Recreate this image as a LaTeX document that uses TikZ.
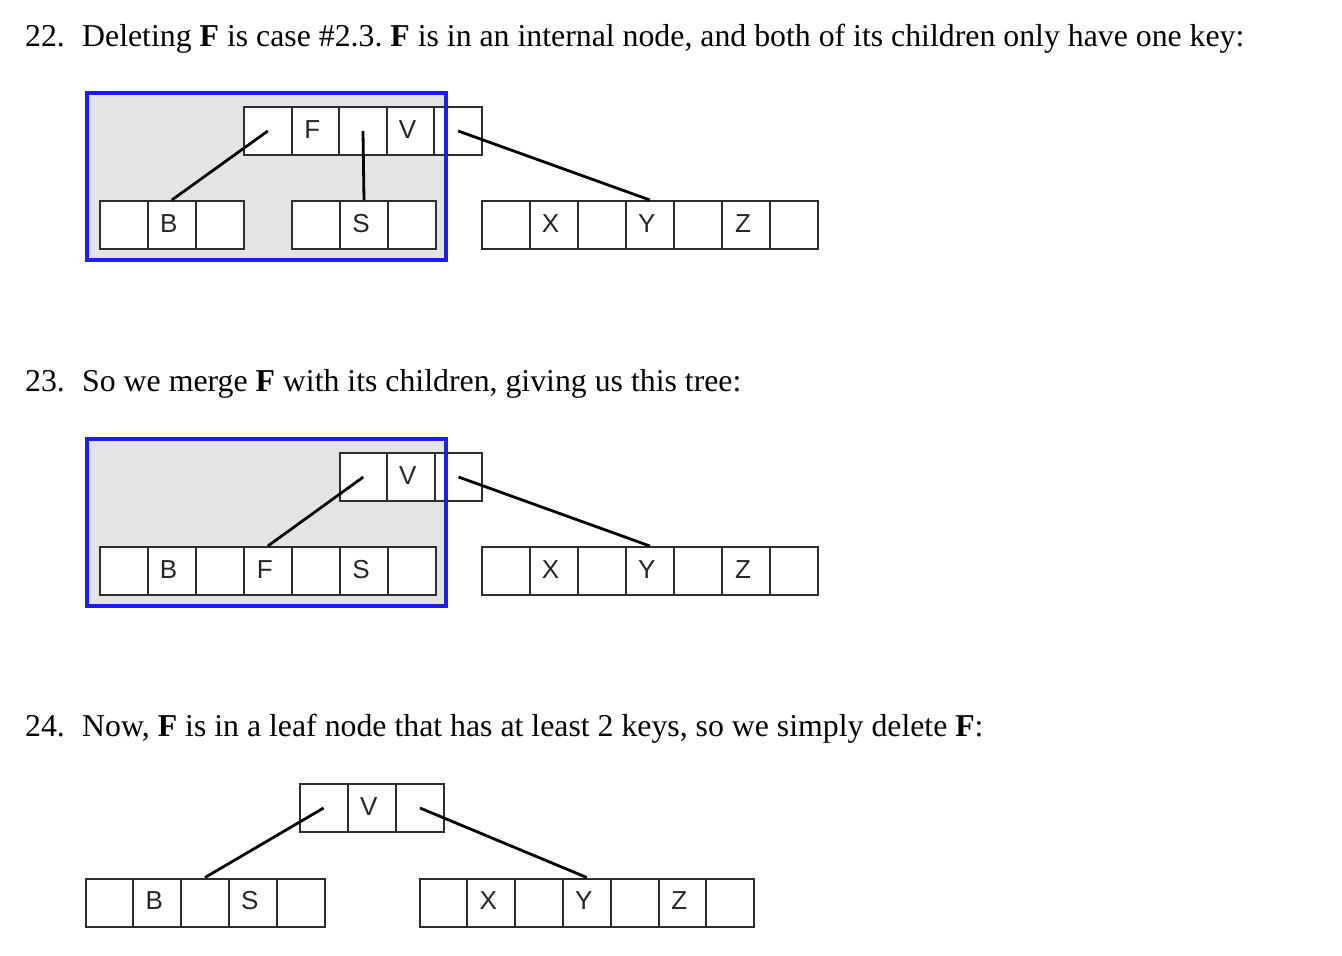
\documentclass[tikz,border=0pt]{standalone}
\usepackage{fontspec}
\setmainfont{Liberation Serif}
\newfontfamily\cellfont{Liberation Sans}
\definecolor{frameblue}{RGB}{28,28,255}
\definecolor{panel}{RGB}{228,228,228}
\definecolor{cellline}{RGB}{45,45,45}
\tikzset{
  cell/.style={draw=cellline, line width=2pt, fill=white, minimum height=48pt,
    inner sep=0pt, anchor=north west, text height=19pt, text depth=5pt,
    font=\cellfont\fontsize{26}{26}\selectfont, text=black!85},
  ptr/.style={line width=2.8pt, black},
  frame/.style={draw=frameblue, line width=4pt},
  panelfill/.style={fill=panel},
  caption/.style={anchor=base west, inner sep=0pt, font=\fontsize{31.8}{38}\selectfont\frenchspacing}
}
\newcommand\keyrow[5]{%
  \foreach \l [count=\i] in {#5} {
    \node[cell, minimum width=#4pt] (#1-\i) at ({#2+(\i-1)*#4}, #3) {\l\hspace*{6pt}};
  }}
\begin{document}
\begin{tikzpicture}[x=1pt,y=-1pt]
\useasboundingbox (0,0) rectangle (1342,956);

% ---- 22 ----
\node[caption] (n22) at (25,46) {22.};
\node[caption] (t22) at (82,46) {Deleting \textbf{F} is case \#2.3. \textbf{F} is in an internal node, and both of its children only have one key:};
\fill[panelfill] (87,93) rectangle (446,260);
\keyrow{ta}{243}{106}{47.6}{{},F,{},V,{}}
\keyrow{ba}{98.5}{200}{48.2}{{},B,{}}
\keyrow{sa}{291}{200}{48}{{},S,{}}
\keyrow{xa}{480.5}{200}{48.1}{{},X,{},Y,{},Z,{}}
\draw[ptr] (ta-1.center) -- (ba-2.north);
\draw[ptr] (ta-3.center) -- (sa-2.north);
\draw[ptr] (ta-5.center) -- (xa-4.north);
\draw[frame] (87,93) rectangle (446,260);

% ---- 23 ----
\node[caption] (n23) at (25,391) {23.};
\node[caption] (t23) at (82,391) {So we merge \textbf{F} with its children, giving us this tree:};
\fill[panelfill] (87,438.5) rectangle (446,605.5);
\keyrow{tb}{338.5}{452}{47.6}{{},V,{}}
\keyrow{lb}{98.5}{546}{48.1}{{},B,{},F,{},S,{}}
\keyrow{xb}{480.5}{546}{48.1}{{},X,{},Y,{},Z,{}}
\draw[ptr] (tb-1.center) -- (lb-4.north);
\draw[ptr] (tb-3.center) -- (xb-4.north);
\draw[frame] (87,438.5) rectangle (446,605.5);

% ---- 24 ----
\node[caption] (n24) at (25,736) {24.};
\node[caption] (t24) at (82,736) {Now, \textbf{F} is in a leaf node that has at least 2 keys, so we simply delete \textbf{F}:};
\keyrow{tc}{298.5}{783}{48.2}{{},V,{}}
\keyrow{lc}{84.5}{877.5}{47.8}{{},B,{},S,{}}
\keyrow{xc}{418.5}{877.5}{47.8}{{},X,{},Y,{},Z,{}}
\draw[ptr] (tc-1.center) -- (lc-3.north);
\draw[ptr] (tc-3.center) -- (xc-4.north);
\end{tikzpicture}
\end{document}
